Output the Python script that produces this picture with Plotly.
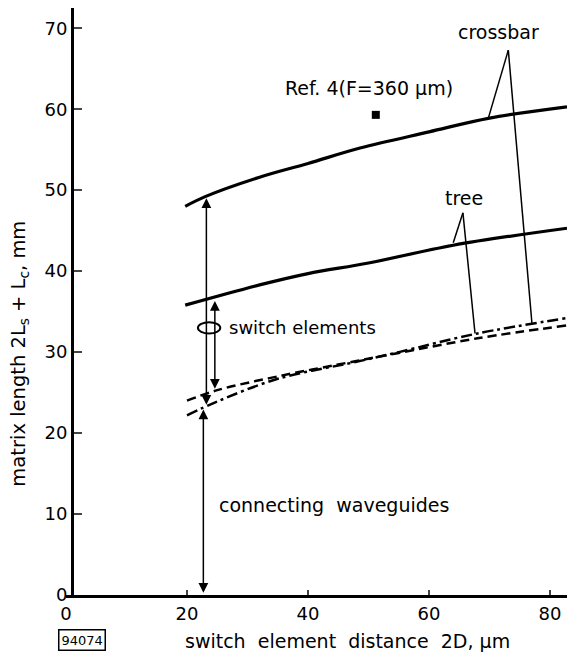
import plotly.graph_objects as go

# ---- data ----
x_crossbar = [19.7, 23.0, 32.0, 40.0, 48.6, 60.0, 70.0, 82.8]
y_crossbar = [48.0, 49.2, 51.6, 53.3, 55.2, 57.2, 58.9, 60.3]

x_tree = [19.7, 32.0, 40.0, 50.0, 64.0, 82.8]
y_tree = [35.8, 38.3, 39.7, 41.0, 43.2, 45.3]

x_tree_dash = [20.0, 25.0, 35.0, 48.0, 55.0, 68.0, 82.8]
y_tree_dash = [24.0, 25.3, 27.0, 28.9, 29.9, 31.7, 33.3]

x_cross_dashdot = [20.0, 25.0, 35.0, 48.0, 55.0, 68.0, 82.8]
y_cross_dashdot = [22.2, 23.9, 26.7, 28.8, 30.0, 32.3, 34.2]

ref_x = [51.2]
ref_y = [59.3]

x_ticks = [0, 20, 40, 60, 80]
y_ticks = [0, 10, 20, 30, 40, 50, 60, 70]

FONT = "DejaVu Sans"
FS = 19

fig = go.Figure()
fig.add_trace(go.Scatter(x=x_crossbar, y=y_crossbar, mode="lines", line=dict(color="black", width=3.2, shape="spline"), showlegend=False))
fig.add_trace(go.Scatter(x=x_tree, y=y_tree, mode="lines", line=dict(color="black", width=3.2, shape="spline"), showlegend=False))
fig.add_trace(go.Scatter(x=x_tree_dash, y=y_tree_dash, mode="lines", line=dict(color="black", width=2.5, dash="9px,5px", shape="spline"), showlegend=False))
fig.add_trace(go.Scatter(x=x_cross_dashdot, y=y_cross_dashdot, mode="lines", line=dict(color="black", width=2.5, dash="11px,4px,3px,4px", shape="spline"), showlegend=False))
fig.add_trace(go.Scatter(x=ref_x, y=ref_y, mode="markers", marker=dict(symbol="square", size=8, color="black"), showlegend=False))

# pointer lines
def seg(x0, y0, x1, y1, w=1.5):
    fig.add_shape(type="line", x0=x0, y0=y0, x1=x1, y1=y1, xref="x", yref="y", line=dict(color="black", width=w))

seg(73.1, 67.3, 69.8, 58.9)
seg(73.1, 67.3, 77.0, 33.6)
seg(65.6, 47.2, 64.0, 43.5)
seg(65.6, 47.2, 67.6, 32.3)

# curl symbol around switch-element arrows
fig.add_shape(type="circle", x0=21.8, x1=25.5, y0=32.3, y1=33.7, xref="x", yref="y", line=dict(color="black", width=2))

# double arrows
def darrow(x, y_top, y_bot):
    fig.add_annotation(x=x, y=y_top, ax=x, ay=y_bot, xref="x", yref="y", axref="x", ayref="y",
                       text="", showarrow=True, arrowhead=2, startarrowhead=2, arrowside="end+start",
                       arrowwidth=1.5, arrowsize=1.3, startarrowsize=1.3, arrowcolor="black")

darrow(23.2, 49.0, 23.3)
darrow(24.6, 36.3, 25.3)
darrow(22.7, 22.9, 0.1)

def label(text, x, y, xanchor="center", size=FS, xref="x", yref="y", **kw):
    fig.add_annotation(x=x, y=y, xref=xref, yref=yref, text=text, showarrow=False, xanchor=xanchor,
                       yanchor="middle", font=dict(family=FONT, size=size, color="black"), **kw)

label("crossbar", 71.4, 69.5)
label("tree", 65.8, 49.0)
label("Ref. 4(F=360 µm)", 50.1, 62.6)
label("switch elements", 26.6, 33.0, xanchor="left", size=18)
label("connecting&nbsp;&nbsp;waveguides", 25.0, 11.1, xanchor="left")

# axis titles
label("switch&nbsp; element&nbsp; distance&nbsp; 2D, µm", 46.6, -0.078, yref="paper")
label("matrix length 2L<sub>s</sub> + L<sub>c</sub>, mm", -0.092, 29.8, xref="paper", textangle=-90, size=19.5)
label("94074", 2.6, -0.077, yref="paper", size=13, bordercolor="black", borderwidth=1.5, borderpad=2)

fig.update_layout(
    width=567, height=654,
    margin=dict(l=66, r=0, t=8, b=59, autoexpand=False),
    plot_bgcolor="white", paper_bgcolor="white",
    font=dict(family=FONT, size=FS, color="black"),
    xaxis=dict(range=[0, 82.8], tickvals=x_ticks, ticks="inside", ticklen=5, tickwidth=2,
               showline=True, linewidth=3, linecolor="black", showgrid=False, zeroline=False,
               automargin=False, tickfont=dict(family=FONT, size=18)),
    yaxis=dict(range=[0, 72.5], tickvals=y_ticks, ticks="inside", ticklen=8, tickwidth=2,
               anchor="free", position=1.0 / 82.8, automargin=False,
               showline=True, linewidth=3, linecolor="black", showgrid=False, zeroline=False,
               tickfont=dict(family=FONT, size=18)),
)

fig.write_html(
    "out.html",
    config={"displayModeBar": False},
    post_script="document.body.style.margin='0';document.body.style.overflow='hidden';",
)
